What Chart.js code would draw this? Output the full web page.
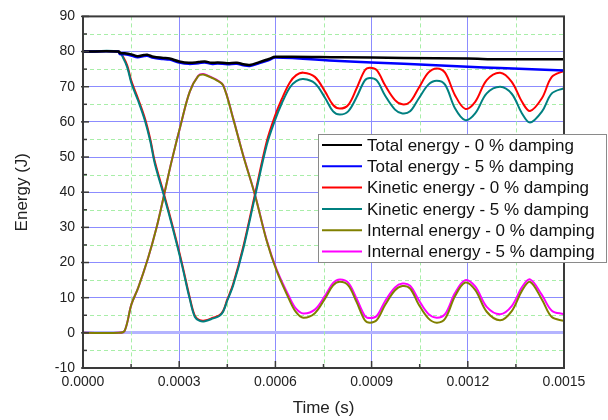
<!DOCTYPE html>
<html><head><meta charset="utf-8">
<script src="https://cdn.jsdelivr.net/npm/chart.js@4.4.0/dist/chart.umd.min.js"></script>
<style>html,body{margin:0;padding:0;background:#fff;}canvas{display:block;}</style>
</head><body>
<canvas id="c" width="608" height="420"></canvas>
<script>
const seriesLabels = [
  "Total energy - 0 % damping",
  "Total energy - 5 % damping",
  "Kinetic energy - 0 % damping",
  "Kinetic energy - 5 % damping",
  "Internal energy - 0 % damping",
  "Internal energy - 5 % damping"
];
const seriesColors = ["#000000", "#0000ff", "#ff0000", "#008080", "#808000", "#ff00ff"];
const xTickValues = [0, 0.0003, 0.0006, 0.0009, 0.0012, 0.0015];
const xMinorValues = [0.00015, 0.00045, 0.00075, 0.00105, 0.00135];
const yTickValues = [-10, 0, 10, 20, 30, 40, 50, 60, 70, 80, 90];
const yMinorValues = [-5, 5, 15, 25, 35, 45, 55, 65, 75, 85];
const xTitle = "Time (s)";
const yTitle = "Energy (J)";

// Total energy (time in s, energy in J)
const tTotal = [0, 0.00011, 0.000115, 0.00013, 0.00015, 0.00017, 0.00019, 0.0002, 0.00022, 0.00025, 0.00027, 0.0003, 0.00033, 0.00036, 0.00038, 0.0004, 0.00042, 0.00045, 0.00048, 0.0005, 0.00052, 0.00055, 0.00058, 0.0006, 0.0008, 0.001, 0.0012, 0.0013, 0.0015];
const totalE0 = [80, 80, 79.6, 79.5, 79.2, 78.7, 79.0, 79.1, 78.5, 78.2, 78.0, 77.2, 76.8, 77.0, 77.2, 76.8, 76.9, 76.7, 76.8, 76.4, 76.2, 77.0, 77.9, 78.5, 78.4, 78.2, 78.0, 77.8, 77.8];
const totalE5 = [80, 80, 79.3, 79.2, 78.9, 78.4, 78.7, 78.8, 78.2, 77.9, 77.7, 76.9, 76.5, 76.7, 76.9, 76.5, 76.6, 76.4, 76.5, 76.1, 75.9, 76.7, 77.6, 78.3, 77.3, 76.5, 75.7, 75.3, 74.6];

// Kinetic energy
const tKin = [0, 0.000112, 0.000125, 0.000138, 0.000151, 0.000172, 0.000193, 0.00021, 0.000224, 0.000253, 0.000281, 0.000307, 0.000333, 0.000349, 0.000364, 0.00038, 0.000406, 0.000425, 0.000437, 0.00045, 0.000468, 0.000499, 0.000536, 0.000573, 0.000598, 0.00062, 0.000645, 0.000665, 0.000687, 0.000723, 0.000755, 0.00078, 0.000801, 0.000827, 0.000853, 0.000879, 0.000895, 0.000916, 0.000942, 0.000973, 0.000996, 0.00102, 0.001046, 0.001077, 0.001103, 0.001129, 0.00116, 0.001192, 0.001223, 0.001259, 0.001301, 0.001337, 0.001369, 0.001394, 0.001431, 0.001462, 0.0015];
const kineticE0 = [80, 80, 78.5, 76, 71.6, 66.5, 61, 55, 48.7, 39.3, 29.8, 20.4, 10, 4.8, 3.6, 3.5, 4.3, 5, 6.2, 9.5, 13.8, 24.2, 39.3, 54.4, 61.5, 66.5, 71.2, 73.3, 74.0, 72.8, 68.6, 64.8, 63.8, 64.8, 69.5, 74.7, 75.4, 74.7, 70.4, 66.2, 65.0, 65.7, 69.5, 74.0, 75.2, 74.0, 67.6, 63.7, 65.7, 71.9, 74.0, 71.4, 65.7, 63.1, 66.7, 72.8, 74.5];
const kineticE5 = [80, 80, 78.2, 75.5, 71.0, 66.0, 60.4, 54.4, 48.1, 38.8, 29.3, 19.9, 9.6, 4.5, 3.4, 3.3, 4.1, 4.8, 6.0, 9.2, 13.4, 23.6, 38.6, 53.4, 60.3, 65.3, 69.8, 71.6, 72.2, 71.0, 66.8, 63.0, 62.1, 63.0, 67.0, 71.8, 72.5, 71.8, 67.5, 63.5, 62.4, 63.0, 66.5, 70.6, 71.7, 70.6, 63.9, 60.5, 62.4, 68.1, 70.0, 68.0, 62.4, 59.8, 62.9, 68.1, 69.6];

// Internal energy
const tInt = [0, 0.000112, 0.00013, 0.000151, 0.000172, 0.000203, 0.000229, 0.000253, 0.000276, 0.000307, 0.000333, 0.000359, 0.000375, 0.000395, 0.000416, 0.000437, 0.000468, 0.000499, 0.000536, 0.000573, 0.000604, 0.000645, 0.000665, 0.000687, 0.000723, 0.000755, 0.00078, 0.000801, 0.000827, 0.000853, 0.000879, 0.000895, 0.000916, 0.000942, 0.000973, 0.000996, 0.00102, 0.001046, 0.001077, 0.001103, 0.001129, 0.00116, 0.001192, 0.001223, 0.001259, 0.001301, 0.001337, 0.001369, 0.001394, 0.001431, 0.001462, 0.0015];
const internalE0 = [0, 0, 0.6, 8.1, 12.8, 21.3, 29.8, 39.3, 48.7, 60, 68.6, 73.0, 73.5, 72.8, 71.9, 70.4, 61, 50.6, 39.3, 26.1, 17.6, 9.1, 5.8, 4.3, 5.6, 9.8, 13.5, 14.5, 13.5, 8.8, 3.6, 2.9, 3.6, 7.9, 12.1, 13.3, 12.6, 8.2, 4.1, 2.9, 4.0, 10.4, 14.3, 12.2, 6.0, 3.6, 6.2, 12.0, 14.5, 9.5, 4.5, 3.4];
const internalE5 = [0, 0, 0.6, 8.1, 12.8, 21.3, 29.8, 39.3, 48.7, 60, 68.6, 73.1, 73.6, 72.9, 72.0, 70.5, 61.1, 50.7, 39.4, 26.3, 18.0, 9.9, 6.8, 5.5, 6.6, 10.6, 14.2, 15.2, 14.3, 9.8, 4.8, 4.2, 4.8, 9.0, 12.9, 14.0, 13.4, 9.5, 5.4, 4.3, 5.3, 11.3, 15.0, 13.2, 7.4, 5.3, 7.6, 13.0, 15.2, 10.8, 6.3, 5.3];

const FONT = 'Arial, "Liberation Sans", sans-serif';
const pts = (ts, vs) => ts.map((t, i) => ({x: t, y: vs[i]}));
const seriesData = [
  pts(tTotal, totalE0), pts(tTotal, totalE5),
  pts(tKin, kineticE0), pts(tKin, kineticE5),
  pts(tInt, internalE0), pts(tInt, internalE5)
];
const drawOrder = [0, 1, 3, 2, 4, 5];
const seriesWidths = [2.5, 2.5, 2, 2, 2, 2];

const datasets = seriesLabels.map((lab, i) => ({
  label: lab,
  data: seriesData[i],
  borderColor: seriesColors[i],
  backgroundColor: seriesColors[i],
  borderWidth: seriesWidths[i],
  pointRadius: 0,
  fill: false,
  tension: 0.35,
  order: drawOrder[i]
}));

const decor = {
  id: 'decor',
  beforeDatasetsDraw(chart) {
    const {ctx, chartArea: a, scales: {x, y}} = chart;
    ctx.save();
    ctx.strokeStyle = '#a8eea8';
    ctx.lineWidth = 1;
    ctx.setLineDash([4, 3]);
    xMinorValues.forEach(v => {
      const px = Math.round(x.getPixelForValue(v)) + 0.5;
      ctx.beginPath(); ctx.moveTo(px, a.top); ctx.lineTo(px, a.bottom); ctx.stroke();
    });
    yMinorValues.forEach(v => {
      const py = Math.round(y.getPixelForValue(v)) + 0.5;
      ctx.beginPath(); ctx.moveTo(a.left, py); ctx.lineTo(a.right, py); ctx.stroke();
    });
    ctx.restore();
  },
  afterDatasetsDraw(chart) {
    const {ctx, chartArea: a, scales: {x, y}} = chart;
    ctx.save();
    ctx.strokeStyle = '#3a3a3a';
    ctx.lineWidth = 2;
    ctx.strokeRect(a.left, a.top, a.right - a.left, a.bottom - a.top);
    ctx.lineWidth = 1.5;
    xTickValues.forEach(v => {
      const px = x.getPixelForValue(v);
      ctx.beginPath(); ctx.moveTo(px, a.bottom); ctx.lineTo(px, a.bottom - 7); ctx.stroke();
    });
    xMinorValues.forEach(v => {
      const px = x.getPixelForValue(v);
      ctx.beginPath(); ctx.moveTo(px, a.bottom); ctx.lineTo(px, a.bottom - 4); ctx.stroke();
    });
    yTickValues.forEach(v => {
      const py = y.getPixelForValue(v);
      ctx.beginPath(); ctx.moveTo(a.left - 2, py); ctx.lineTo(a.left + 6, py); ctx.stroke();
    });
    yMinorValues.forEach(v => {
      const py = y.getPixelForValue(v);
      ctx.beginPath(); ctx.moveTo(a.left, py); ctx.lineTo(a.left + 4, py); ctx.stroke();
    });
    ctx.restore();
  },
  afterDraw(chart) {
    const ctx = chart.ctx;
    const bx = 318.5, by = 134.5, bw = 288, bh = 128;
    ctx.save();
    ctx.fillStyle = '#ffffff';
    ctx.fillRect(bx, by, bw, bh);
    ctx.strokeStyle = '#8a8a8a';
    ctx.lineWidth = 1;
    ctx.strokeRect(bx, by, bw, bh);
    ctx.font = '17px ' + FONT;
    ctx.textBaseline = 'middle';
    ctx.textAlign = 'left';
    chart.data.datasets.forEach((ds, i) => {
      const ry = 145 + i * 21.3;
      ctx.strokeStyle = ds.borderColor;
      ctx.lineWidth = 2;
      ctx.beginPath(); ctx.moveTo(322, ry); ctx.lineTo(362, ry); ctx.stroke();
      ctx.fillStyle = '#111111';
      ctx.fillText(ds.label, 367, ry + 1);
    });
    ctx.restore();
  }
};

new Chart(document.getElementById('c'), {
  type: 'line',
  data: {datasets},
  options: {
    responsive: false,
    animation: false,
    devicePixelRatio: 1,
    layout: {padding: {left: 0, right: 44, top: 15, bottom: 0}},
    plugins: {legend: {display: false}, tooltip: {enabled: false}},
    scales: {
      x: {
        type: 'linear', min: 0, max: 0.0015,
        afterBuildTicks: s => { s.ticks = xTickValues.map(v => ({value: v})); },
        afterFit: s => { s.height = 52; },
        ticks: {callback: v => Number(v).toFixed(4), font: {size: 14, family: FONT}, color: '#222', padding: 6, maxRotation: 0, autoSkip: false},
        grid: {color: '#8c8cff', lineWidth: 1, drawTicks: false},
        border: {display: false},
        title: {display: true, text: xTitle, font: {size: 17, family: FONT}, color: '#222', padding: {top: 0, bottom: 1}}
      },
      y: {
        type: 'linear', min: -10, max: 90,
        afterBuildTicks: s => { s.ticks = yTickValues.map(v => ({value: v})); },
        afterFit: s => { s.width = 83; },
        ticks: {font: {size: 14, family: FONT}, color: '#222', padding: 8},
        grid: {
          color: c => (c.tick && c.tick.value === 0) ? '#b4b4ff' : '#8c8cff',
          lineWidth: c => (c.tick && c.tick.value === 0) ? 3 : 1,
          drawTicks: false
        },
        border: {display: false},
        title: {display: true, text: yTitle, font: {size: 17, family: FONT}, color: '#222', padding: {top: 12, bottom: 0}}
      }
    }
  },
  plugins: [decor]
});
</script>
</body></html>
